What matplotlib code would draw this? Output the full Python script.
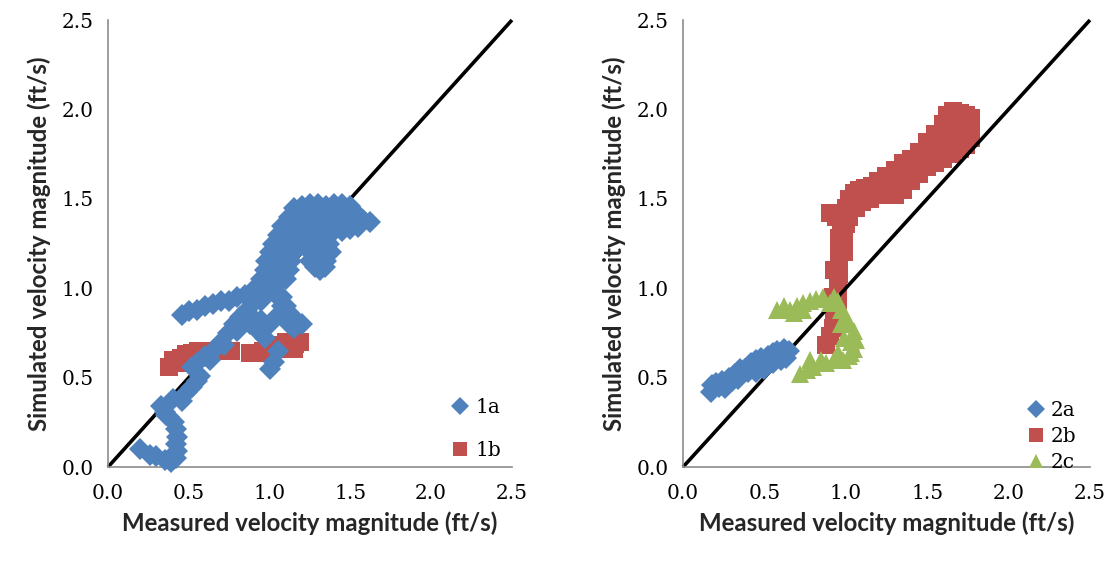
import matplotlib
matplotlib.use("Agg")
import matplotlib.pyplot as plt

# ---- data -------------------------------------------------------------
# Panel 1, series 1a (measured, simulated)
meas_1a = [
    # lower hook
    0.20, 0.26, 0.30, 0.35, 0.39, 0.42, 0.43, 0.42, 0.43, 0.42, 0.41, 0.38, 0.35, 0.33, 0.36,
    0.40, 0.46, 0.49, 0.52, 0.55, 0.57, 0.52, 0.55, 0.60, 0.63,
    # band along the diagonal
    0.66, 0.70, 0.74, 0.78, 0.82, 0.86, 0.90, 0.93, 0.96, 0.72, 0.80, 0.88, 0.95,
    # left arm
    0.46, 0.50, 0.55, 0.60, 0.65, 0.70, 0.75, 0.80, 0.85, 0.90, 0.95,
    # right of the diagonal
    0.88, 0.93, 0.97, 1.00, 1.03, 1.05, 0.95, 1.00, 1.05,
    1.02, 1.05, 1.08, 1.12, 1.16, 1.20, 1.08, 1.10, 1.10, 1.12, 1.15,
    # upper cluster
    0.93, 0.98, 1.03, 0.95, 1.00, 1.05, 1.10, 0.97, 1.02, 1.07, 1.12,
    0.98, 1.03, 1.08, 1.13, 1.25, 1.30, 1.35,
    1.00, 1.05, 1.10, 1.15, 1.25, 1.30, 1.35, 1.38,
    1.02, 1.08, 1.12, 1.18, 1.22, 1.28, 1.33, 1.37,
    1.05, 1.10, 1.15, 1.20, 1.25, 1.30, 1.35, 1.40, 1.45, 1.50, 1.55,
    1.08, 1.12, 1.18, 1.22, 1.28, 1.33, 1.38, 1.43, 1.48, 1.53, 1.58, 1.62,
    1.12, 1.15, 1.20, 1.25, 1.30, 1.35, 1.40, 1.45, 1.50, 1.55,
    1.15, 1.20, 1.25, 1.30, 1.35, 1.40, 1.45, 1.50,
    1.31, 1.28, 1.34]
sim_1a = [
    0.10, 0.07, 0.06, 0.04, 0.03, 0.05, 0.09, 0.13, 0.17, 0.21, 0.25, 0.28, 0.31, 0.34, 0.29,
    0.38, 0.37, 0.42, 0.45, 0.48, 0.51, 0.56, 0.58, 0.62, 0.60,
    0.66, 0.70, 0.75, 0.80, 0.84, 0.88, 0.92, 0.96, 1.00, 0.68, 0.76, 0.85, 0.93,
    0.85, 0.87, 0.88, 0.90, 0.91, 0.93, 0.93, 0.95, 0.96, 0.99, 1.02,
    0.80, 0.76, 0.72, 0.55, 0.59, 0.65, 0.82, 0.80, 0.85,
    1.00, 0.95, 0.90, 0.86, 0.83, 0.80, 0.95, 0.90, 0.85, 0.80, 0.78,
    1.00, 1.00, 1.00, 1.05, 1.05, 1.05, 1.05, 1.10, 1.10, 1.10, 1.10,
    1.15, 1.15, 1.15, 1.15, 1.15, 1.15, 1.15,
    1.20, 1.20, 1.20, 1.20, 1.20, 1.20, 1.20, 1.20,
    1.25, 1.25, 1.25, 1.25, 1.25, 1.25, 1.25, 1.25,
    1.30, 1.30, 1.30, 1.30, 1.30, 1.30, 1.30, 1.32, 1.32, 1.33, 1.34,
    1.35, 1.35, 1.35, 1.35, 1.35, 1.35, 1.36, 1.37, 1.37, 1.38, 1.38, 1.37,
    1.40, 1.40, 1.40, 1.40, 1.40, 1.40, 1.42, 1.42, 1.42, 1.41,
    1.45, 1.46, 1.47, 1.47, 1.46, 1.47, 1.47, 1.46,
    1.10, 1.12, 1.12]

# Panel 1, series 1b
meas_1b = [0.38, 0.42, 0.45, 0.48, 0.52, 0.56, 0.60, 0.64, 0.68, 0.72, 0.76, 0.40, 0.47, 0.55,
           0.88, 0.92, 0.96, 1.00, 1.04, 1.08, 1.12, 1.16, 1.19, 1.00, 1.10, 1.15]
sim_1b = [0.56, 0.58, 0.61, 0.63, 0.64, 0.65, 0.65, 0.65, 0.65, 0.65, 0.65, 0.60, 0.58, 0.62,
          0.64, 0.64, 0.65, 0.65, 0.66, 0.67, 0.68, 0.69, 0.70, 0.68, 0.70, 0.66]

# Panel 2, series 2a
meas_2a = [0.17, 0.18, 0.20, 0.24, 0.28, 0.32, 0.35, 0.38, 0.42, 0.45, 0.48, 0.52, 0.55, 0.58,
           0.62, 0.65, 0.45, 0.50, 0.55, 0.60, 0.30, 0.22, 0.26, 0.34, 0.40, 0.63]
sim_2a = [0.42, 0.46, 0.47, 0.48, 0.50, 0.52, 0.55, 0.55, 0.58, 0.60, 0.61, 0.62, 0.64, 0.65,
          0.66, 0.65, 0.53, 0.55, 0.58, 0.60, 0.48, 0.45, 0.44, 0.49, 0.53, 0.61]

# Panel 2, series 2b
meas_2b = [
    # vertical leg
    0.88, 0.90, 0.92, 0.93, 0.94, 0.95, 0.95, 0.95, 0.96, 0.96, 0.96, 0.96, 0.96, 0.97, 0.98,
    0.90, 0.94, 0.92, 0.93, 0.99, 0.99, 1.00,
    # upper band, top edge
    1.00, 1.02, 1.05, 1.08, 1.12, 1.16, 1.20, 1.25, 1.30, 1.35, 1.40, 1.45, 1.50, 1.55, 1.60,
    1.62, 1.66, 1.70, 1.74, 1.77,
    # upper band, lower edge
    1.02, 1.06, 1.10, 1.15, 1.20, 1.25, 1.30, 1.35, 1.40, 1.45, 1.50, 1.55, 1.60, 1.65, 1.70,
    1.74, 1.77, 1.77,
    # upper band, middle
    1.10, 1.20, 1.30, 1.40, 1.50, 1.55, 1.60, 1.65, 1.70, 1.60, 1.65, 1.70, 1.45, 1.35, 1.25,
    1.15]
sim_2b = [
    0.68, 0.73, 0.78, 0.83, 0.88, 0.93, 0.98, 1.03, 1.08, 1.13, 1.18, 1.23, 1.28, 1.33, 1.38,
    1.42, 1.40, 0.95, 1.10, 1.20, 1.30, 1.36,
    1.45, 1.50, 1.53, 1.55, 1.56, 1.57, 1.60, 1.63, 1.66, 1.70, 1.72, 1.76, 1.82, 1.86, 1.92,
    1.97, 1.99, 1.98, 1.97, 1.95,
    1.40, 1.45, 1.48, 1.50, 1.52, 1.54, 1.52, 1.55, 1.60, 1.64, 1.68, 1.70, 1.72, 1.75, 1.78,
    1.80, 1.84, 1.89,
    1.52, 1.56, 1.60, 1.66, 1.75, 1.78, 1.82, 1.85, 1.90, 1.88, 1.92, 1.94, 1.70, 1.63, 1.58,
    1.53]

# Panel 2, series 2c
meas_2c = [0.58, 0.62, 0.66, 0.70, 0.74, 0.78, 0.82, 0.86, 0.90, 0.93, 0.95, 0.97, 1.00, 1.02,
           1.05, 1.06, 1.05, 1.02, 0.98, 0.93, 0.88, 0.84, 0.80, 0.76, 0.72, 1.03, 0.97, 0.68,
           0.74, 0.85, 0.78, 0.95, 0.99, 1.03]
sim_2c = [0.88, 0.90, 0.88, 0.90, 0.92, 0.93, 0.94, 0.95, 0.92, 0.95, 0.93, 0.88, 0.84, 0.80,
          0.76, 0.71, 0.66, 0.62, 0.60, 0.60, 0.58, 0.58, 0.56, 0.54, 0.52, 0.70, 0.80, 0.86,
          0.88, 0.60, 0.60, 0.64, 0.72, 0.64]

ticks = [0.0, 0.5, 1.0, 1.5, 2.0, 2.5]
tick_labels = ["0.0", "0.5", "1.0", "1.5", "2.0", "2.5"]
xlabel = "Measured velocity magnitude (ft/s)"
ylabel = "Simulated velocity magnitude (ft/s)"

BLUE = "#4F81BD"
RED = "#C0504D"
GREEN = "#9BBB59"
SPINE = "#8C8C8C"

fig = plt.figure(figsize=(11.12, 5.62), dpi=100)
ax1 = fig.add_axes([0.0971, 0.169, 0.3633, 0.7954])
ax2 = fig.add_axes([0.6142, 0.169, 0.366, 0.7954])

label_font = dict(family="Lato", fontsize=17.3, fontweight="bold", color="#262626")


def style(ax):
    ax.set_xlim(0, 2.5)
    ax.set_ylim(0, 2.5)
    ax.set_xticks(ticks)
    ax.set_yticks(ticks)
    ax.set_xticklabels(tick_labels, family="DejaVu Serif", fontsize=14.5)
    ax.set_yticklabels(tick_labels, family="DejaVu Serif", fontsize=14.5)
    ax.tick_params(length=0, pad=12)
    ax.tick_params(axis="y", pad=10)
    for s in ("top", "right"):
        ax.spines[s].set_visible(False)
    for s in ("left", "bottom"):
        ax.spines[s].set_color(SPINE)
        ax.spines[s].set_linewidth(1.2)
    ax.set_xlabel(xlabel, labelpad=6, **label_font)
    ax.set_ylabel(ylabel, labelpad=8, **label_font)
    # 1:1 reference line
    ax.plot([0, 2.5], [0, 2.5], color="black", lw=2.6, zorder=2.5, clip_on=False,
            solid_capstyle="butt")


style(ax1)
style(ax2)

mk = dict(linestyle="none", markeredgewidth=0, clip_on=False)
ax1.plot(meas_1b, sim_1b, marker="s", ms=13, color=RED, zorder=2, label="1b", **mk)
ax1.plot(meas_1a, sim_1a, marker="D", ms=11.5, color=BLUE, zorder=3, label="1a", **mk)

ax2.plot(meas_2b, sim_2b, marker="s", ms=13, color=RED, zorder=2, label="2b", **mk)
ax2.plot(meas_2a, sim_2a, marker="D", ms=11.5, color=BLUE, zorder=3, label="2a", **mk)
ax2.plot(meas_2c, sim_2c, marker="^", ms=13, color=GREEN, zorder=3, label="2c", **mk)

leg_font = dict(family="DejaVu Serif", size=14.5)


def add_legend(ax, order, spacing, anchor, msize):
    handles, labels = ax.get_legend_handles_labels()
    pairs = dict(zip(labels, handles))
    leg = ax.legend([pairs[k] for k in order], order, loc="lower left", bbox_to_anchor=anchor,
                    frameon=False, prop=leg_font, handlelength=0.9, handletextpad=0.3,
                    labelspacing=spacing, borderpad=0, borderaxespad=0)
    for h in leg.legend_handles:
        h.set_markersize(msize)


add_legend(ax1, ["1a", "1b"], 1.2, (0.85, 0.015), 9.5)
add_legend(ax2, ["2a", "2b", "2c"], 0.35, (0.845, -0.012), 9.5)

fig.savefig("out.png", dpi=100, facecolor="white")
